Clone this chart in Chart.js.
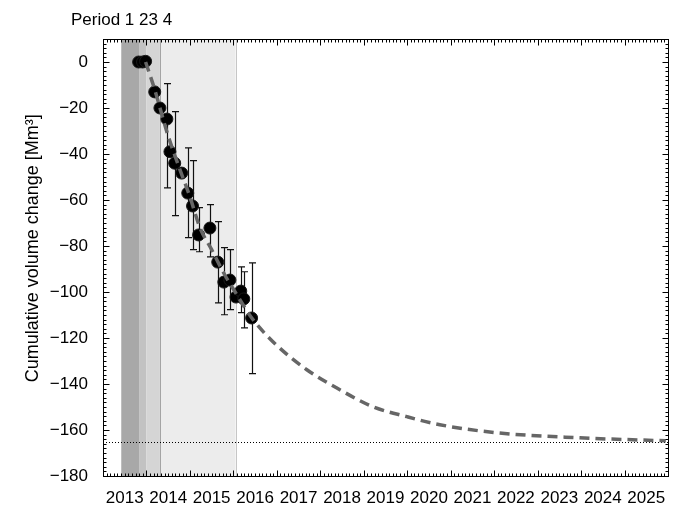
<!DOCTYPE html>
<html>
<head>
<meta charset="utf-8">
<script src="https://cdn.jsdelivr.net/npm/chart.js@4/dist/chart.umd.min.js"></script>
<style>
  html, body { margin: 0; padding: 0; background: #fff; }
  #wrap { width: 678px; height: 510px; position: relative; }
</style>
</head>
<body>
<div id="wrap"><canvas id="c"></canvas></div>
<script>
// Survey epochs (decimal year) and cumulative volume change (Mm³)
const surveyYears   = [2013.82, 2013.91, 2013.98, 2014.19, 2014.31, 2014.47, 2014.54, 2014.65, 2014.81, 2014.95,
                       2015.06, 2015.20, 2015.46, 2015.64, 2015.78, 2015.92, 2016.06, 2016.17, 2016.24, 2016.42];
const surveyVolumes = [0, 0, 0.3, -13, -20, -24.8, -39, -44, -48.3, -57,
                       -62.6, -75.2, -72.2, -87, -95.7, -94.8, -102.2, -99.6, -103, -111.3];
// Uncertainty range of each epoch (null where no bar is shown)
const errUpper = [null, null, null, null, null, -9.4, null, -21.6, null, -37.3,
                  -42.9, -63.3, -62, -69.4, -80.7, -81.6, null, -89.1, -91.2, -87.3];
const errLower = [null, null, null, null, null, -54.7, null, -66.8, null, -76.4,
                  -81.6, -82.5, -84.7, -104.7, -109.9, -107.7, null, -109.0, -115.6, -135.5];

// Fitted decay model and its projection
const modelYears   = [2013.98, 2014.19, 2014.31, 2014.49, 2014.77, 2015.00, 2015.23, 2015.50, 2015.80, 2016.08,
                      2016.42, 2016.91, 2017.69, 2018.45, 2019.21, 2019.99, 2020.75, 2022.06, 2023.97, 2025.95];
const modelVolumes = [0, -12, -19.9, -31.6, -46.8, -58.6, -72, -81.6, -92.5, -101.2,
                      -111.2, -121.6, -133.8, -142.5, -149.9, -154.2, -157.7, -161.2, -163.4, -164.7];
const asymptote = -165;

// Observation periods
const periodHeading = 'Period 1 23 4';
const periodStart  = [2013.42, 2013.83, 2014.00, 2014.31];
const periodEnd    = [2013.83, 2014.00, 2014.31, 2016.05];
const periodColors = ['#a8a8a8', '#c2c2c2', '#d5d5d5', '#ececec'];

// Axis ticks
const xTickYears  = [2013, 2014, 2015, 2016, 2017, 2018, 2019, 2020, 2021, 2022, 2023, 2024, 2025];
const xTickLabels = ['2013', '2014', '2015', '2016', '2017', '2018', '2019', '2020', '2021', '2022', '2023', '2024', '2025'];
const yTickValues = [-180, -160, -140, -120, -100, -80, -60, -40, -20, 0];
const yTickLabels = ['\u2212180', '\u2212160', '\u2212140', '\u2212120', '\u2212100', '\u221280', '\u221260', '\u221240', '\u221220', '0'];

const FONT = '"Liberation Sans", Arial, Helvetica, sans-serif';
Chart.defaults.font.family = FONT;
Chart.defaults.color = '#000';

const decor = {
  id: 'decor',
  beforeDatasetsDraw(chart) {
    const { ctx, chartArea: a, scales: { x, y } } = chart;
    ctx.save();
    // shaded observation periods
    periodStart.forEach((s, i) => {
      const x0 = x.getPixelForValue(s), x1 = x.getPixelForValue(periodEnd[i]);
      ctx.fillStyle = periodColors[i];
      ctx.fillRect(x0, a.top, x1 - x0, a.bottom - a.top);
    });
    ctx.lineWidth = 1;
    [[periodEnd[2], '#a4a4a4'], [periodEnd[3], '#c6c6c6']].forEach(([v, c]) => {
      const px = Math.round(x.getPixelForValue(v)) + 0.5;
      ctx.strokeStyle = c;
      ctx.beginPath(); ctx.moveTo(px, a.top); ctx.lineTo(px, a.bottom); ctx.stroke();
    });
    // long-term asymptote
    const ya = Math.round(y.getPixelForValue(asymptote)) + 0.5;
    ctx.strokeStyle = '#000';
    ctx.setLineDash([1, 2]);
    ctx.beginPath(); ctx.moveTo(a.left, ya); ctx.lineTo(a.right, ya); ctx.stroke();
    ctx.setLineDash([]);
    // error bars
    ctx.strokeStyle = '#111';
    ctx.lineWidth = 1.2;
    surveyYears.forEach((t, i) => {
      if (errUpper[i] == null) return;
      const px = Math.round(x.getPixelForValue(t)) + 0.5;
      const yt = y.getPixelForValue(errUpper[i]), yb = y.getPixelForValue(errLower[i]);
      ctx.beginPath();
      ctx.moveTo(px, yt); ctx.lineTo(px, yb);
      ctx.moveTo(px - 3.5, yt); ctx.lineTo(px + 3.5, yt);
      ctx.moveTo(px - 3.5, yb); ctx.lineTo(px + 3.5, yb);
      ctx.stroke();
    });
    ctx.restore();
  },
  afterDraw(chart) {
    const { ctx, chartArea: a, scales: { x, y } } = chart;
    ctx.save();
    ctx.strokeStyle = '#000';
    ctx.lineWidth = 1;
    // frame
    ctx.strokeRect(Math.round(a.left) + 0.5, Math.round(a.top) + 0.5,
                   Math.round(a.right - a.left), Math.round(a.bottom - a.top));
    const L = Math.round(a.left) + 0.5, R = Math.round(a.right) + 0.5;
    const T = Math.round(a.top) + 0.5, B = Math.round(a.bottom) + 0.5;
    ctx.beginPath();
    // inward ticks on the year axes: years major, months minor
    for (let yr = 2013; yr <= 2026; yr++) {
      for (let m = 0; m < 12; m++) {
        const v = yr + m / 12;
        if (v > 2026) break;
        const px = Math.round(x.getPixelForValue(v)) + 0.5;
        const len = m === 0 ? 6 : 3;
        ctx.moveTo(px, B); ctx.lineTo(px, B - len);
        ctx.moveTo(px, T); ctx.lineTo(px, T + len);
      }
    }
    // inward ticks on the volume axes: 20 major, 2 minor
    for (let v = -180; v <= 10; v += 2) {
      const py = Math.round(y.getPixelForValue(v)) + 0.5;
      const len = v % 20 === 0 ? 6 : 3;
      ctx.moveTo(L, py); ctx.lineTo(L + len, py);
      ctx.moveTo(R, py); ctx.lineTo(R - len, py);
    }
    ctx.stroke();

    // period heading
    ctx.fillStyle = '#000';
    ctx.font = '17px ' + FONT;
    ctx.textBaseline = 'alphabetic';
    ctx.textAlign = 'left';
    ctx.fillText(periodHeading, 71, 25);

    // volume axis title
    ctx.font = '18px ' + FONT;
    ctx.translate(33, y.getPixelForValue(-81));
    ctx.rotate(-Math.PI / 2);
    ctx.textAlign = 'center';
    ctx.textBaseline = 'middle';
    ctx.fillText('Cumulative volume change [Mm\u00B3]', 0, 0);
    ctx.restore();
  }
};

new Chart(document.getElementById('c'), {
  type: 'scatter',
  data: {
    datasets: [
      {
        type: 'line',
        label: 'model',
        data: modelYears.map((t, i) => ({ x: t, y: modelVolumes[i] })),
        borderColor: '#666666',
        borderWidth: 3.5,
        borderDash: [10, 6],
        pointRadius: 0,
        fill: false,
        cubicInterpolationMode: 'monotone',
        order: 0
      },
      {
        label: 'survey',
        data: surveyYears.map((t, i) => ({ x: t, y: surveyVolumes[i] })),
        backgroundColor: '#000',
        borderColor: '#1a1a1a',
        borderWidth: 1,
        pointRadius: 6,
        order: 1
      }
    ]
  },
  options: {
    responsive: true,
    maintainAspectRatio: false,
    animation: false,
    events: [],
    layout: { padding: { left: 0, right: 10, top: 39, bottom: 0 } },
    plugins: { legend: { display: false }, tooltip: { enabled: false }, title: { display: false } },
    scales: {
      x: {
        type: 'linear',
        min: 2013, max: 2026,
        afterBuildTicks: s => { s.ticks = xTickYears.map(v => ({ value: v + 0.5 })); },
        afterFit: s => { s.height = 34; },
        grid: { display: false, drawTicks: false },
        border: { display: false },
        ticks: {
          callback: (v, i) => xTickLabels[i],
          font: { size: 17 }, color: '#000',
          maxRotation: 0, autoSkip: false, padding: 12
        }
      },
      y: {
        type: 'linear',
        min: -180, max: 10,
        afterBuildTicks: s => { s.ticks = yTickValues.map(v => ({ value: v })); },
        afterFit: s => { s.width = 103; },
        grid: { display: false, drawTicks: false },
        border: { display: false },
        ticks: {
          callback: (v, i) => yTickLabels[i],
          font: { size: 17 }, color: '#000',
          autoSkip: false, padding: 15
        }
      }
    }
  },
  plugins: [decor]
});
</script>
</body>
</html>
